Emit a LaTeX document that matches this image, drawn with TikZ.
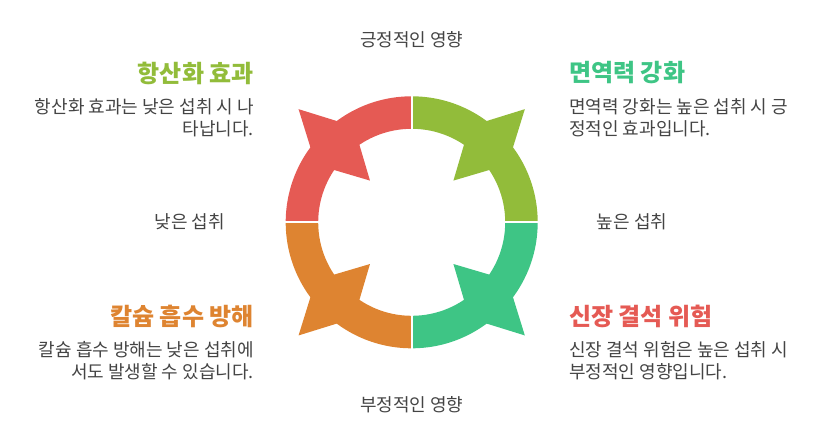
\documentclass[tikz,border=0pt]{standalone}
\usepackage{fontspec}
\setmainfont{Noto Sans CJK KR}
\begin{document}
\begin{tikzpicture}[x=1pt,y=-1pt,
  ttl/.style={font=\fontsize{24}{28}\selectfont\bfseries,inner sep=0},
  body/.style={font=\fontsize{18}{22}\selectfont,text=txt,inner sep=0},
  axl/.style={font=\fontsize{18}{22}\selectfont,text=txt}]
\definecolor{cr}{HTML}{E55A54}\definecolor{cg}{HTML}{92BC3A}
\definecolor{ct}{HTML}{3EC585}\definecolor{co}{HTML}{DE8431}
\definecolor{txt}{HTML}{444444}
\useasboundingbox (0,0) rectangle (814,434);
\coordinate (C) at (411.7,222.3);
\def\R{126}\def\r{93.5}
\foreach \a/\c in {180/cr,270/cg,0/ct,90/co}{
  \pgfmathsetmacro\m{\a+45}
  \fill[\c] ([shift={(\a:\R)}]C) arc[start angle=\a,end angle=\a+90,radius=\R]
     -- ([shift={(\a+90:\r)}]C) arc[start angle=\a+90,end angle=\a,radius=\r] -- cycle;
  \fill[\c] ([shift={(\m:160)}]C) -- ([shift={(\m+8.5:\R)}]C) -- ([shift={(\m+11:\r)}]C)
     -- ([shift={(\m:59)}]C) -- ([shift={(\m-11:\r)}]C) -- ([shift={(\m-8.5:\R)}]C) -- cycle;
}
\draw[white,line width=2] (411.7,90) -- (411.7,355) (280,222.3) -- (545,222.3);
\node[axl] (top) at (411.7,40) {긍정적인 영향};
\node[axl] (bot) at (411.7,405) {부정적인 영향};
\node[axl] (lo) at (190,222) {낮은 섭취};
\node[axl] (hi) at (632,222) {높은 섭취};
\node[ttl,text=cg,anchor=east] (t1) at (254,73) {항산화 효과};
\node[body,anchor=north east,align=right] (b1) at (254,98) {항산화 효과는 낮은 섭취 시 나\\타납니다.};
\node[ttl,text=ct,anchor=west] (t2) at (569,73) {면역력 강화};
\node[body,anchor=north west,align=left] (b2) at (569,98) {면역력 강화는 높은 섭취 시 긍\\정적인 효과입니다.};
\node[ttl,text=co,anchor=east] (t3) at (254,316) {칼슘 흡수 방해};
\node[body,anchor=north east,align=right] (b3) at (254,341) {칼슘 흡수 방해는 낮은 섭취에\\서도 발생할 수 있습니다.};
\node[ttl,text=cr,anchor=west] (t4) at (569,316) {신장 결석 위험};
\node[body,anchor=north west,align=left] (b4) at (569,341) {신장 결석 위험은 높은 섭취 시\\부정적인 영향입니다.};
\end{tikzpicture}
\end{document}
